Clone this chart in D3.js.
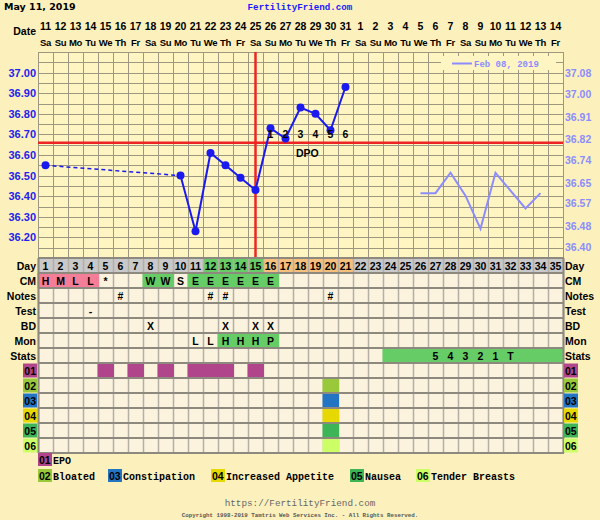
<!DOCTYPE html>
<html><head><meta charset="utf-8">
<script src="https://cdn.jsdelivr.net/npm/d3@7/dist/d3.min.js"></script>
<style>
html,body{margin:0;padding:0;background:#fcf1bd;}
svg{display:block;}
</style></head>
<body>
<svg id="c" width="600" height="520"></svg>
<script>
// ---------- DATA ----------
const days = d3.range(1, 36);
const dates = [11,12,13,14,15,16,17,18,19,20,21,22,23,24,25,26,27,28,29,30,31,1,2,3,4,5,6,7,8,9,10,11,12,13,14];
const weekdays = ["Sa","Su","Mo","Tu","We","Th","Fr"];
const tempDays   = [1, 10, 11, 12, 13, 14, 15, 16, 17, 18, 19, 20, 21];
const tempValues = [36.55, 36.50, 36.23, 36.61, 36.55, 36.49, 36.43, 36.73, 36.68, 36.83, 36.80, 36.72, 36.93];
const coverline = 36.66;
const ovulationDay = 15;
const dpoDays = [16,17,18,19,20,21];
const dpoLabels = ["1","2","3","4","5","6"];
const prevDays   = [26, 27, 28, 29, 30, 31, 32, 33, 34];
const prevValues = [36.61, 36.61, 36.69, 36.60, 36.47, 36.69, 36.62, 36.55, 36.61];
const prevLabel = "Feb 08, 2019";
const leftTicks  = [36.20,36.30,36.40,36.50,36.60,36.70,36.80,36.90,37.00];
const rightTicks = [36.40,36.48,36.57,36.65,36.74,36.82,36.91,37.00,37.08];
const dayPhaseDays = {gray:[1,2,3,4,5,6,7,8,9,10,11,22,23,24,25,26,27,28,29,30,31,32,33,34,35], green:[12,13,14,15], orange:[16,17,18,19,20,21]};
const cmDays  = [1,2,3,4,5,8,9,10,11,12,13,14,15,16];
const cmCodes = ["H","M","L","L","*","W","W","S","E","E","E","E","E","E"];
const cmColor = ["pink","pink","pink","pink","none","green","green","none","green","green","green","green","green","green"];
const notesDays = [6,12,13,20];
const testDays = [4]; const testCodes = ["-"];
const bdDays = [8,13,15,16];
const monDays  = [11,12,13,14,15,16];
const monCodes = ["L","L","H","H","H","P"];
const monColor = ["none","none","green","green","green","green"];
const statsGreenDays = [24,25,26,27,28,29,30,31,32,33,34,35];
const statsDays  = [27,28,29,30,31,32];
const statsCodes = ["5","4","3","2","1","T"];
const rowNames = ["Day","CM","Notes","Test","BD","Mon","Stats","01","02","03","04","05","06"];
const symptomCodes  = ["01","02","03","04","05","06"];
const symptomNames  = ["EPO","Bloated","Constipation","Increased Appetite","Nausea","Tender Breasts"];
const symptomColors = ["#b0458c","#99c83a","#2474c4","#e6d800","#3db456","#ccff66"];
const symptomDays = [[5,7,9,11,12,13,15],[20],[20],[20],[20],[20]];

// ---------- LAYOUT ----------
const svg = d3.select("#c");
const X0 = 38, X1 = 563, TOP = 52, BOT = 258, ROWH = 15;
const x = d3.scaleBand().domain(days).range([X0, X1]);
const cx = d => x(d) + x.bandwidth()/2;
const y = d3.scaleLinear().domain([36.10, 37.10]).range([BOT, TOP]);
const yPrev = d3.scaleLinear().domain([36.40, 37.08]).range([246.7, 73.3]);
const rowY = i => BOT + i*ROWH;
const SANS = "'Liberation Sans', Arial, sans-serif";
const MONO = "'Liberation Mono', 'Courier New', monospace";

svg.append("rect").attr("width",600).attr("height",520).attr("fill","#fcf1bd");

// header
svg.append("text").attr("x",4).attr("y",10).attr("font-family","'DejaVu Sans', Verdana, sans-serif").attr("font-weight","bold").attr("font-size",9.5).text("May 11, 2019");
svg.append("text").attr("x",300).attr("y",10).attr("text-anchor","middle").attr("font-family",MONO).attr("font-weight","bold").attr("font-size",9.2).attr("fill","#1a1aff").text("FertilityFriend.com");
svg.append("text").attr("x",36).attr("y",35).attr("text-anchor","end").attr("font-family",SANS).attr("font-weight","bold").attr("font-size",10.5).text("Date");
svg.append("g").selectAll("text").data(days).join("text")
  .attr("x",d=>cx(d)).attr("y",29.5).attr("text-anchor","middle").attr("font-family",SANS).attr("font-weight","bold").attr("font-size",10.5)
  .text((d,i)=>dates[i]);
svg.append("g").selectAll("text").data(days).join("text")
  .attr("x",d=>cx(d)).attr("y",45.5).attr("text-anchor","middle").attr("font-family",SANS).attr("font-weight","bold").attr("font-size",9.5)
  .attr("letter-spacing","-0.3")
  .text((d,i)=>weekdays[i%7]);

// temp chart background and grid
svg.append("rect").attr("x",X0).attr("y",TOP).attr("width",X1-X0).attr("height",BOT-TOP).attr("fill","#fff5c2");
const grid = svg.append("g").attr("stroke","#9d987f").attr("stroke-width",1);
grid.selectAll(".h").data(d3.range(0,21)).join("line")
  .attr("x1",X0).attr("x2",X1).attr("y1",i=>Math.round(y(36.10+i*0.05))+0.5).attr("y2",i=>Math.round(y(36.10+i*0.05))+0.5);
grid.selectAll(".v").data(d3.range(0,36)).join("line")
  .attr("y1",TOP).attr("y2",BOT).attr("x1",i=>X0+i*x.bandwidth()+0.5).attr("x2",i=>X0+i*x.bandwidth()+0.5);

// legend box for previous cycle
svg.append("rect").attr("x",441).attr("y",56).attr("width",115).attr("height",14).attr("fill","#fff5c2");
svg.append("line").attr("x1",452).attr("x2",472).attr("y1",63.5).attr("y2",63.5).attr("stroke","#8c8cff").attr("stroke-width",2);
svg.append("text").attr("x",474).attr("y",66.5).attr("font-family",MONO).attr("font-weight","bold").attr("font-size",9).attr("fill","#8c8cff").text(prevLabel);

// axes
const la = svg.append("g").attr("transform",`translate(${X0-1},0)`)
  .call(d3.axisLeft(y).tickValues(leftTicks).tickSize(0).tickPadding(1).tickFormat(d3.format(".2f")));
la.select(".domain").remove();
la.selectAll("text").attr("font-family",SANS).attr("font-weight","bold").attr("font-size",11).attr("fill","#2222ee");
const ra = svg.append("g").attr("transform",`translate(${X1+1},0)`)
  .call(d3.axisRight(yPrev).tickValues(rightTicks).tickSize(0).tickPadding(1).tickFormat(d3.format(".2f")));
ra.select(".domain").remove();
ra.selectAll("text").attr("font-family",SANS).attr("font-weight","bold").attr("font-size",10.5).attr("fill","#8c8cff");

// previous cycle line
svg.append("path").datum(prevDays.map((d,i)=>[d,prevValues[i]]))
  .attr("fill","none").attr("stroke","#8c8cff").attr("stroke-width",2)
  .attr("d",d3.line().x(d=>cx(d[0])).y(d=>yPrev(d[1])));

// red lines
svg.append("line").attr("x1",X0).attr("x2",X1).attr("y1",y(coverline)).attr("y2",y(coverline)).attr("stroke","#ee2424").attr("stroke-width",2.5);
svg.append("line").attr("x1",cx(ovulationDay)).attr("x2",cx(ovulationDay)).attr("y1",TOP).attr("y2",BOT).attr("stroke","#ee2424").attr("stroke-width",2.5);

// temperature line
const pts = tempDays.map((d,i)=>[d,tempValues[i]]);
const line = d3.line().x(d=>cx(d[0])).y(d=>y(d[1]));
svg.append("path").datum(pts.slice(0,2)).attr("fill","none").attr("stroke","#1a1aee").attr("stroke-width",1.5).attr("stroke-dasharray","4,3").attr("d",line);
svg.append("path").datum(pts.slice(1)).attr("fill","none").attr("stroke","#1a1aee").attr("stroke-width",2).attr("d",line);
svg.append("g").selectAll("circle").data(pts).join("circle")
  .attr("cx",d=>cx(d[0])).attr("cy",d=>y(d[1])).attr("r",4).attr("fill","#1a1aee");
svg.append("g").selectAll("text").data(dpoDays).join("text")
  .attr("x",d=>cx(d)).attr("y",137.5).attr("text-anchor","middle").attr("font-family",SANS).attr("font-weight","bold").attr("font-size",10.5)
  .text((d,i)=>dpoLabels[i]);
svg.append("text").attr("x",x(18)+3).attr("y",157).attr("font-family",SANS).attr("font-weight","bold").attr("font-size",10.5).text("DPO");

// ---------- TABLE ----------
const nRows = rowNames.length;
const colors = {gray:"#c9c9c9", green:"#66cc66", orange:"#f6c07c", pink:"#f47d98"};
const tbl = svg.append("g");
tbl.append("rect").attr("x",X0).attr("y",BOT).attr("width",X1-X0).attr("height",nRows*ROWH).attr("fill","#fcf3de");
// day row
Object.entries(dayPhaseDays).forEach(([k,arr])=>{
  tbl.selectAll(null).data(arr).join("rect").attr("x",d=>x(d)).attr("y",rowY(0)).attr("width",x.bandwidth()).attr("height",ROWH).attr("fill",colors[k]);
});
// vertical lines
tbl.selectAll(".v").data(d3.range(0,36)).join("line")
  .attr("y1",BOT).attr("y2",BOT+nRows*ROWH).attr("x1",i=>X0+i*x.bandwidth()+0.5).attr("x2",i=>X0+i*x.bandwidth()+0.5)
  .attr("stroke","#b3afa4").attr("stroke-width",1.5);
function cellRects(row, ds, fills){
  tbl.selectAll(null).data(ds.map((d,i)=>[d,fills[i]]).filter(e=>e[1]!=="none")).join("rect")
    .attr("x",e=>x(e[0])-0.5).attr("y",rowY(row)).attr("width",x.bandwidth()+1.5).attr("height",ROWH).attr("fill",e=>colors[e[1]]||e[1]);
}
function cellTexts(row, ds, txt, font){
  tbl.selectAll(null).data(ds).join("text")
    .attr("x",d=>cx(d)).attr("y",rowY(row)+11.5).attr("text-anchor","middle")
    .attr("font-family",font||SANS).attr("font-weight","bold").attr("font-size",10.5)
    .text((d,i)=>txt[i]);
}
cellRects(1, cmDays, cmColor);
cellRects(5, monDays, monColor);
cellRects(6, statsGreenDays, statsGreenDays.map(()=>"green"));
symptomDays.forEach((arr,k)=>cellRects(7+k, arr, arr.map(()=>symptomColors[k])));
// horizontal lines
tbl.selectAll(".h").data(d3.range(0,nRows+1)).join("line")
  .attr("x1",X0).attr("x2",X1+1).attr("y1",i=>rowY(i)).attr("y2",i=>rowY(i))
  .attr("stroke","#8e897e").attr("stroke-width",2);
tbl.append("line").attr("x1",X0+0.5).attr("x2",X0+0.5).attr("y1",BOT).attr("y2",BOT+nRows*ROWH).attr("stroke","#8e897e").attr("stroke-width",2);
tbl.append("line").attr("x1",X1+0.5).attr("x2",X1+0.5).attr("y1",BOT).attr("y2",BOT+nRows*ROWH).attr("stroke","#8e897e").attr("stroke-width",2);

cellTexts(0, days, days.map(String));
cellTexts(1, cmDays, cmCodes);
cellTexts(2, notesDays, notesDays.map(()=>"#"));
cellTexts(3, testDays, testCodes);
cellTexts(4, bdDays, bdDays.map(()=>"X"));
cellTexts(5, monDays, monCodes);
cellTexts(6, statsDays, statsCodes);

// row labels
rowNames.forEach((name,i)=>{
  if(i>=7){
    const c = symptomColors[i-7];
    svg.append("rect").attr("x",23).attr("y",rowY(i)+0.5).attr("width",14).attr("height",14).attr("fill",c);
    svg.append("rect").attr("x",564).attr("y",rowY(i)+0.5).attr("width",14).attr("height",14).attr("fill",c);
  }
  svg.append("text").attr("x",36).attr("y",rowY(i)+11.5).attr("text-anchor","end").attr("font-family",SANS).attr("font-weight","bold").attr("font-size",10.5).text(name);
  svg.append("text").attr("x",565).attr("y",rowY(i)+11.5).attr("font-family",SANS).attr("font-weight","bold").attr("font-size",10.5).text(name);
});

// symptom legend
const legPos = [[38,453],[38,469],[108,469],[211,469],[350,469],[416,469]];
symptomCodes.forEach((code,i)=>{
  const [lx,ly] = legPos[i];
  svg.append("rect").attr("x",lx).attr("y",ly).attr("width",14).attr("height",13).attr("fill",symptomColors[i]);
  svg.append("text").attr("x",lx+1).attr("y",ly+10.5).attr("font-family",SANS).attr("font-weight","bold").attr("font-size",10.5).text(code);
  svg.append("text").attr("x",lx+15).attr("y",ly+10.5).attr("font-family",MONO).attr("font-weight","bold").attr("font-size",10).text(symptomNames[i]);
});

// footer
svg.append("text").attr("x",300).attr("y",506).attr("text-anchor","middle").attr("font-family",MONO).attr("font-size",9.3).attr("fill","#666").text("https://FertilityFriend.com");
svg.append("text").attr("x",300).attr("y",516.5).attr("text-anchor","middle").attr("font-family",MONO).attr("font-weight","bold").attr("font-size",5.8).attr("fill","#555").text("Copyright 1998-2019 Tamtris Web Services Inc. - All Rights Reserved.");
</script>
</body></html>
